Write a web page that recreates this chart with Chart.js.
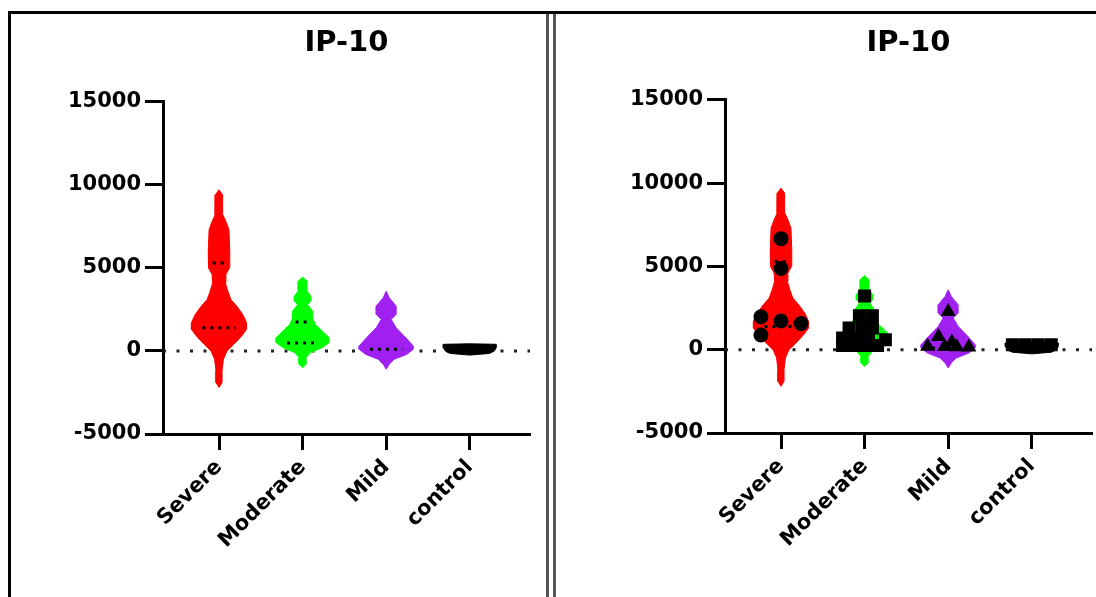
<!DOCTYPE html>
<html>
<head>
<meta charset="utf-8">
<script src="https://cdn.jsdelivr.net/npm/chart.js@4.4.0/dist/chart.umd.min.js"></script>
<style>
  body { margin: 0; background: #fff; }
  #page { position: relative; width: 1096px; height: 597px; overflow: hidden; background: #fff; }
  .rule { position: absolute; background: #000; }
  canvas { position: absolute; }
</style>
</head>
<body>
<div id="page">
  <div class="rule" style="left:8px;top:11px;width:1088px;height:3px"></div>
  <div class="rule" style="left:8px;top:11px;width:3px;height:586px"></div>
  <div class="rule" style="left:546px;top:14px;width:3px;height:583px;background:#555"></div>
  <div class="rule" style="left:553px;top:14px;width:3px;height:583px;background:#555"></div>
  <canvas id="leftChart" width="533" height="582" style="left:12px;top:15px"></canvas>
  <canvas id="rightChart" width="539" height="582" style="left:557px;top:15px"></canvas>
</div>
<script>
const groups = ['Severe', 'Moderate', 'Mild', 'control'];
const yTicks = [-5000, 0, 5000, 10000, 15000];
const colors = ['#ff0000', '#00ff00', '#a020f0', '#000000'];

// violin outlines: value levels and relative half-width (1 = widest)
const severeLevels = [-2200, -1900, -1200, -500, 0, 400, 900, 1300, 1700, 2200, 2700, 3100, 3600, 4100, 4600, 5000, 6000, 7300, 7800, 8200, 9400, 9700];
const severeWidth  = [0, 0.11, 0.11, 0.16, 0.29, 0.54, 0.82, 1, 1, 0.86, 0.64, 0.43, 0.32, 0.23, 0.25, 0.38, 0.39, 0.36, 0.25, 0.14, 0.13, 0];
const moderateLevels = [-1000, -800, -400, -100, 200, 500, 800, 1200, 1600, 2000, 2400, 2800, 3000, 3300, 3500, 3600, 4200, 4450];
const moderateWidth  = [0, 0.13, 0.13, 0.29, 0.71, 0.96, 0.96, 0.71, 0.46, 0.36, 0.36, 0.18, 0.3, 0.3, 0.21, 0.16, 0.16, 0];
const mildLevels = [-1100, -800, -500, -200, 100, 300, 800, 1400, 1900, 2200, 2700, 3200, 3600];
const mildWidth  = [0, 0.11, 0.29, 0.75, 0.98, 0.98, 0.71, 0.36, 0.18, 0.36, 0.36, 0.11, 0];
const controlLevels = [-250, -150, 0, 200, 400, 430];
const controlWidth  = [0, 0.71, 0.89, 0.96, 0.96, 0];

// dotted median / quartile lines
const medianVals = [1400, 480, 100, null];
const upperQuartVals = [5300, 1740, null, null];

// right panel: individual values and their column in the swarm
const severePts = [6665, 4870, 1975, 880, 1720, 1575];
const severeSlots = [0, 0, -1, -1, 0, 1];
const moderatePts = [3230, 2040, 2040, 1300, 1300, 1300, 700, 700, 700, 600, 250, 250, 250, 250];
const moderateSlots = [0, -0.4, 0.6, -1.2, -0.2, 0.6, -1.7, -0.7, 0.3, 1.6, -1.7, -0.7, 0.3, 1.0];
const mildPts = [2280, 780, 450, 200, 180, 170, 150];
const mildSlots = [0, -0.8, 0.3, -1.7, -0.3, 0.7, 1.7];
const controlPts = [300, 300, 300, 300];
const controlSlots = [-1.5, -0.5, 0.5, 1.5];

const X_MIN = -0.67, X_MAX = 3.72;
const HALF = 0.33;
const FONT = 'DejaVu Sans';

const violins = [
  [severeLevels, severeWidth],
  [moderateLevels, moderateWidth],
  [mildLevels, mildWidth],
  [controlLevels, controlWidth]
];

function outline(i, levels, widths) {
  const right = levels.map((v, k) => ({x: i + widths[k] * HALF, y: v}));
  const left = levels.map((v, k) => ({x: i - widths[k] * HALF, y: v})).reverse();
  return right.concat(left);
}

function widthAt(levels, widths, v) {
  for (let k = 1; k < levels.length; k++) {
    if (v <= levels[k]) {
      const t = (v - levels[k - 1]) / (levels[k] - levels[k - 1]);
      return widths[k - 1] + t * (widths[k] - widths[k - 1]);
    }
  }
  return 0;
}

function swarm(i, pts, slots, step) {
  return pts.map((v, k) => ({x: i + slots[k] * step, y: v}));
}

function buildDatasets(withPoints) {
  const ds = [];
  ds.push({
    data: [{x: X_MIN, y: 0}, {x: X_MAX, y: 0}],
    showLine: true, borderColor: '#222', borderWidth: 3, borderDash: [3, 10.5],
    pointRadius: 0, fill: false, order: 10
  });
  violins.forEach((v, i) => {
    ds.push({
      data: outline(i, v[0], v[1]),
      showLine: true, fill: 'shape', backgroundColor: colors[i],
      borderColor: colors[i], borderWidth: 1, pointRadius: 0, tension: 0, order: 5
    });
  });
  [medianVals, upperQuartVals].forEach(arr => {
    arr.forEach((val, i) => {
      if (val === null) return;
      const w = widthAt(violins[i][0], violins[i][1], val) * HALF * 0.6;
      ds.push({
        data: [{x: i - w, y: val}, {x: i + w, y: val}],
        showLine: true, borderColor: '#000', borderWidth: 3, borderDash: [3, 5],
        pointRadius: 0, fill: false, order: 3
      });
    });
  });
  if (withPoints) {
    const pt = {showLine: false, backgroundColor: '#000', borderColor: '#000', borderWidth: 0, order: 1};
    ds.push(Object.assign({data: swarm(0, severePts, severeSlots, 0.24), pointStyle: 'circle', pointRadius: 7.5}, pt));
    ds.push(Object.assign({data: swarm(1, moderatePts, moderateSlots, 0.155), pointStyle: 'rect', pointRadius: 9.2}, pt));
    ds.push(Object.assign({data: swarm(2, mildPts, mildSlots, 0.145), pointStyle: 'triangle', pointRadius: 8.7}, pt));
    ds.push(Object.assign({data: swarm(3, controlPts, controlSlots, 0.155), pointStyle: 'rect', pointRadius: 9.2}, pt));
  }
  return ds;
}

function makeChart(id, withPoints, geo) {
  const tickFont = {family: FONT, size: 21, weight: 'bold'};
  return new Chart(document.getElementById(id), {
    type: 'scatter',
    data: {datasets: buildDatasets(withPoints)},
    options: {
      responsive: false,
      animation: false,
      events: [],
      layout: {autoPadding: false, padding: {left: 0, right: geo.padRight, top: 0, bottom: 0}},
      plugins: {
        legend: {display: false},
        tooltip: {enabled: false},
        title: {
          display: true, text: 'IP-10', fullSize: false, color: '#000',
          font: {family: FONT, size: 29, weight: 'bold'},
          padding: {top: 11, bottom: geo.titleBottom}
        }
      },
      scales: {
        x: {
          type: 'linear', min: X_MIN, max: X_MAX,
          afterBuildTicks: s => { s.ticks = groups.map((g, i) => ({value: i})); },
          afterFit: s => { s.height = geo.xHeight; s.paddingLeft = 0; s.paddingRight = 0; },
          ticks: {
            callback: v => groups[Math.round(v)] || '',
            autoSkip: false, maxRotation: 45, minRotation: 45,
            font: tickFont, color: '#000', padding: 5
          },
          grid: {drawOnChartArea: false, drawTicks: true, tickLength: 16, tickWidth: 3, tickColor: '#000'},
          border: {display: true, color: '#000', width: 3}
        },
        y: {
          min: -5000, max: 15000,
          afterBuildTicks: s => { s.ticks = yTicks.map(v => ({value: v})); },
          afterFit: s => { s.width = geo.yWidth; s.paddingTop = 0; s.paddingBottom = 0; },
          ticks: {callback: v => String(v), font: tickFont, color: '#000', padding: 4},
          grid: {drawOnChartArea: false, drawTicks: true, tickLength: 18, tickWidth: 3, tickColor: '#000'},
          border: {display: true, color: '#000', width: 3}
        }
      }
    }
  });
}

makeChart('leftChart', false, {yWidth: 151, xHeight: 163, padRight: 15, titleBottom: 41});
makeChart('rightChart', true, {yWidth: 168, xHeight: 164, padRight: 4, titleBottom: 39});
</script>
</body>
</html>
